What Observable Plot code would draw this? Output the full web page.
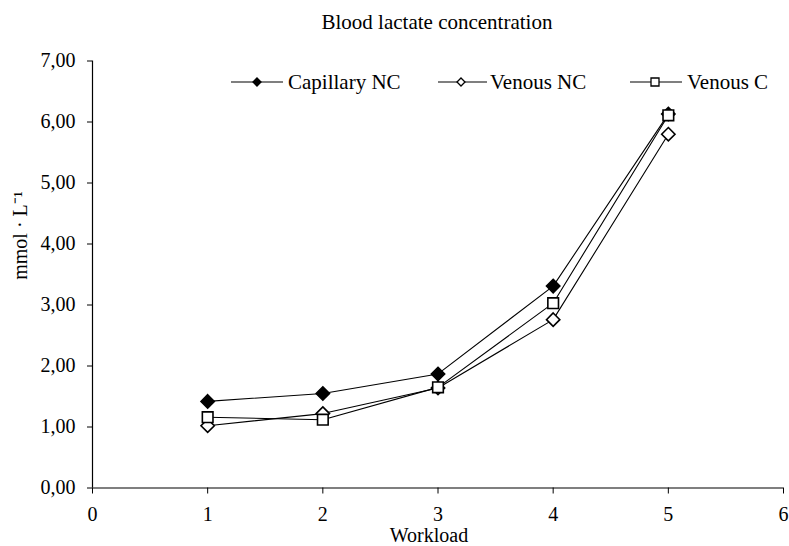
<!DOCTYPE html>
<html><head><meta charset="utf-8">
<script src="https://cdn.jsdelivr.net/npm/d3@7"></script>
<script src="https://cdn.jsdelivr.net/npm/@observablehq/plot@0.6"></script>
<style>
body{margin:0;background:#fff;font-family:"Liberation Serif","Times New Roman",serif;color:#000;}
#wrap{position:relative;width:789px;height:546px;overflow:hidden;}
#title{height:40px;line-height:40px;padding-left:85px;text-align:center;font-size:21px;position:relative;top:2px;}
#chart{position:absolute;left:0;top:40px;}
#legend{position:absolute;left:0;top:0;}
#chart svg, #chart svg g, #chart svg text{font-family:"Liberation Serif","Times New Roman",serif !important;}
</style></head><body>
<div id="wrap"><div id="title">Blood lactate concentration</div><div id="chart"></div><svg id="legend" width="789" height="110"></svg></div>
<script>
// ---- data ----
const workload = [1, 2, 3, 4, 5];
const capillaryNC = [1.42, 1.55, 1.87, 3.31, 6.13];
const venousNC = [1.02, 1.22, 1.64, 2.76, 5.80];
const venousC = [1.16, 1.12, 1.65, 3.03, 6.11];
const seriesNames = ["Capillary NC", "Venous NC", "Venous C"];
const xTicks = [0, 1, 2, 3, 4, 5, 6];
const yTicks = [0, 1, 2, 3, 4, 5, 6, 7];
const xLabel = "Workload";
const yLabel = "mmol · L\u207B\u00B9";

const serif = "'Liberation Serif','Times New Roman',serif";
const seriesValues = [capillaryNC, venousNC, venousC];
const seriesStyle = [
  {symbol: "diamond2", fill: "#000", r: 6},
  {symbol: "diamond2", fill: "#fff", r: 6},
  {symbol: "square", fill: "#fff", r: 6}
];
const series = seriesNames.map((name, k) => ({
  name, style: seriesStyle[k],
  rows: workload.map((w, i) => ({x: w, y: seriesValues[k][i]}))
}));
const fmt = d => d.toFixed(2).replace(".", ",");

const marks = [
  Plot.axisX({ticks: xTicks, tickSize: 6, tickPadding: 13, label: null, fontSize: 20, fontFamily: serif, fontVariant: "normal", tickFormat: d => String(d)}),
  Plot.axisY({ticks: yTicks, tickSize: 5, tickPadding: 12, label: null, fontSize: 20, fontFamily: serif, fontVariant: "normal", tickFormat: fmt}),
  Plot.ruleX([0], {stroke: "#000", strokeWidth: 1.2}),
  Plot.ruleY([0], {stroke: "#000", strokeWidth: 1.2})
];
for (const s of series) {
  marks.push(Plot.line(s.rows, {x: "x", y: "y", stroke: "#000", strokeWidth: 1.1}));
  marks.push(Plot.dot(s.rows, {x: "x", y: "y", symbol: () => s.style.symbol, r: s.style.r,
    fill: s.style.fill, stroke: "#000", strokeWidth: 1.6}));
}
marks.push(Plot.text([xLabel], {text: d => d, frameAnchor: "bottom", lineAnchor: "middle", textAnchor: "middle",
  dy: 48, dx: -9, fontSize: 20, fontFamily: serif}));
marks.push(Plot.text([yLabel], {text: d => d, frameAnchor: "left", lineAnchor: "middle", textAnchor: "middle",
  rotate: -90, dx: -72, dy: -39, fontSize: 20, fontFamily: serif}));

const chart = Plot.plot({
  width: 789, height: 506,
  marginTop: 20.5, marginBottom: 58.5, marginLeft: 92, marginRight: 6,
  style: {fontFamily: serif, fontSize: "19px", color: "#000", background: "#fff", overflow: "visible"},
  x: {domain: [0, 6]},
  y: {domain: [0, 7]},
  marks
});
d3.select(chart).selectAll("text").style("font-family", serif);
document.getElementById("chart").appendChild(chart);

// ---- legend (inside plot area, as in the reference) ----
const legendLayout = [
  {x0: 231, x1: 283, mx: 257, tx: 288},
  {x0: 438, x1: 487, mx: 461, tx: 490},
  {x0: 630, x1: 682, mx: 655, tx: 687}
];
const ly = 82;
const lg = d3.select("#legend");
series.forEach((s, k) => {
  const L = legendLayout[k];
  lg.append("line").attr("x1", L.x0).attr("x2", L.x1).attr("y1", ly).attr("y2", ly)
    .attr("stroke", "#000").attr("stroke-width", 1.1);
  const type = s.style.symbol === "square" ? d3.symbolSquare : d3.symbolDiamond2;
  const size = s.style.symbol === "square" ? 64 : 41;
  lg.append("path").attr("d", d3.symbol(type, size)()).attr("transform", `translate(${L.mx},${ly})`)
    .attr("fill", s.style.fill).attr("stroke", "#000").attr("stroke-width", 1.3);
  lg.append("text").attr("x", L.tx).attr("y", ly + 7).attr("font-size", 21)
    .attr("font-family", serif).text(s.name);
});
</script>
</body></html>
